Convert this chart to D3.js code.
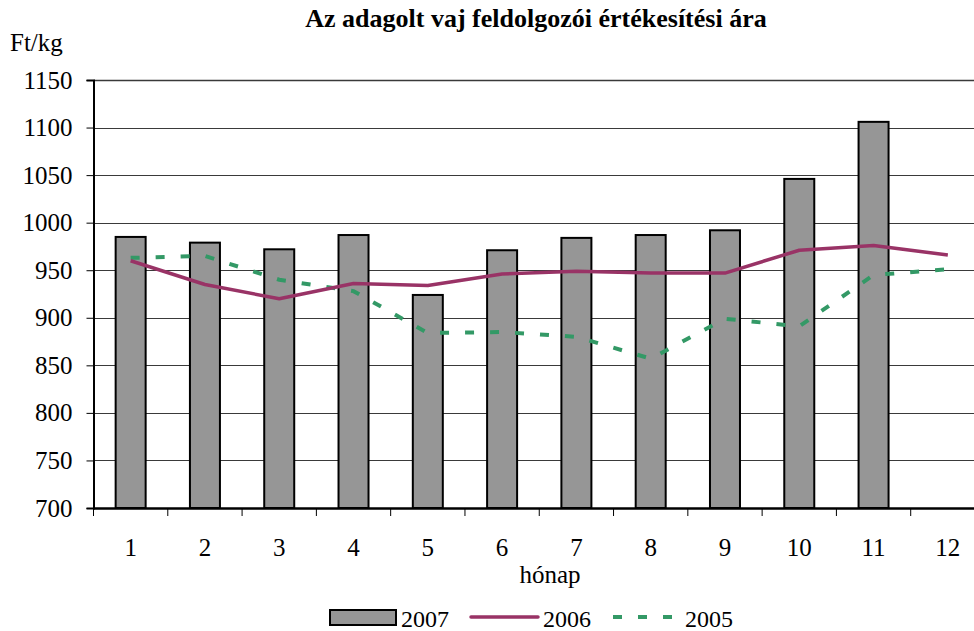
<!DOCTYPE html>
<html>
<head>
<meta charset="utf-8">
<script src="https://cdn.jsdelivr.net/npm/d3@7"></script>
<style>
  body { margin: 0; background: #fff; }
  svg { display: block; }
  svg text { font-family: "Liberation Serif", "Times New Roman", serif; fill: #000; }
</style>
</head>
<body>
<div id="chart-area"></div>
<script>
// chart data
const months = ['1','2','3','4','5','6','7','8','9','10','11','12'];
const values2007 = [985, 979, 972, 987, 924, 971, 984, 987, 992, 1046, 1106, null];
const values2006 = [960, 935, 920, 936, 934, 946, 949, 947, 947, 971, 976, 966];
const values2005 = [963, 965, 940, 928, 884, 885, 880, 857, 899, 891, 945, 951];
const yTicks = [700, 750, 800, 850, 900, 950, 1000, 1050, 1100, 1150];

const MARGIN = { LEFT: 93.5, RIGHT: -11, TOP: 80, BOTTOM: 123 };
const W = 974, H = 631;
const WIDTH = W - MARGIN.LEFT - MARGIN.RIGHT;
const HEIGHT = H - MARGIN.TOP - MARGIN.BOTTOM;

const svg = d3.select('#chart-area')
  .append('svg')
  .attr('width', W)
  .attr('height', H);

const g = svg.append('g')
  .attr('transform', `translate(${MARGIN.LEFT},${MARGIN.TOP})`);

const x = d3.scaleBand()
  .domain(months)
  .range([0, WIDTH]);

const y = d3.scaleLinear()
  .domain([700, 1150])
  .range([HEIGHT, 0]);

// grid lines
g.append('g')
  .selectAll('line')
  .data(yTicks)
  .join('line')
  .attr('x1', 0)
  .attr('x2', WIDTH)
  .attr('y1', d => Math.round(y(d)) + 0.5)
  .attr('y2', d => Math.round(y(d)) + 0.5)
  .attr('stroke', '#3a3a3a')
  .attr('stroke-width', d => d === 1150 ? 1.6 : 1);

// bars (2007)
const barW = 30;
g.append('g')
  .selectAll('rect')
  .data(months.map((m, i) => ({ m, v: values2007[i] })).filter(d => d.v != null))
  .join('rect')
  .attr('x', d => x(d.m) + x.bandwidth() / 2 - barW / 2)
  .attr('y', d => y(d.v))
  .attr('width', barW)
  .attr('height', d => HEIGHT - y(d.v))
  .attr('fill', '#969696')
  .attr('stroke', '#000')
  .attr('stroke-width', 2);

const lineGen = d3.line()
  .x((d, i) => x(months[i]) + x.bandwidth() / 2)
  .y(d => y(d));

// 2005 dashed
g.append('path')
  .datum(values2005)
  .attr('d', lineGen)
  .attr('fill', 'none')
  .attr('stroke', '#339966')
  .attr('stroke-width', 4)
  .attr('stroke-dasharray', '9,16');

// 2006 solid
g.append('path')
  .datum(values2006)
  .attr('d', lineGen)
  .attr('fill', 'none')
  .attr('stroke', '#993366')
  .attr('stroke-width', 3.5)
  .attr('stroke-linejoin', 'round');

// axes
const yAxis = g.append('g')
  .call(d3.axisLeft(y).tickValues(yTicks).tickFormat(d3.format('d')).tickSize(7).tickPadding(14));
yAxis.select('.domain').attr('stroke-width', 2);
yAxis.selectAll('text')
  .style('font-size', '25px');

const xAxis = g.append('g')
  .attr('transform', `translate(0,${HEIGHT})`)
  .call(d3.axisBottom(x).tickSize(0).tickPadding(30));
xAxis.select('.domain').attr('stroke-width', 2.5);
xAxis.selectAll('text')
  .style('font-size', '25px');

// tick marks between bands on x
g.append('g')
  .selectAll('line')
  .data(d3.range(months.length + 1))
  .join('line')
  .attr('x1', i => i * x.step())
  .attr('x2', i => i * x.step())
  .attr('y1', HEIGHT)
  .attr('y2', HEIGHT + 8)
  .attr('stroke', '#000')
  .attr('stroke-width', 1);

// labels
svg.append('text')
  .attr('x', 536)
  .attr('y', 27)
  .attr('text-anchor', 'middle')
  .style('font-size', '26px')
  .style('font-weight', 'bold')
  .text('Az adagolt vaj feldolgozói értékesítési ára');

svg.append('text')
  .attr('x', 10)
  .attr('y', 51)
  .style('font-size', '25px')
  .text('Ft/kg');

svg.append('text')
  .attr('x', 550)
  .attr('y', 583)
  .attr('text-anchor', 'middle')
  .style('font-size', '25px')
  .text('hónap');

// legend
const leg = svg.append('g');
leg.append('rect')
  .attr('x', 330).attr('y', 610).attr('width', 66).attr('height', 15)
  .attr('fill', '#969696').attr('stroke', '#000').attr('stroke-width', 2);
leg.append('text').attr('x', 401).attr('y', 627).style('font-size', '24px').text('2007');
leg.append('line')
  .attr('x1', 471).attr('x2', 538).attr('y1', 617).attr('y2', 617)
  .attr('stroke', '#993366').attr('stroke-width', 3.5).attr('stroke-linecap', 'round');
leg.append('text').attr('x', 543).attr('y', 627).style('font-size', '24px').text('2006');
leg.append('line')
  .attr('x1', 613).attr('x2', 677).attr('y1', 617).attr('y2', 617)
  .attr('stroke', '#339966').attr('stroke-width', 4).attr('stroke-dasharray', '9,16');
leg.append('text').attr('x', 685).attr('y', 627).style('font-size', '24px').text('2005');
</script>
</body>
</html>
